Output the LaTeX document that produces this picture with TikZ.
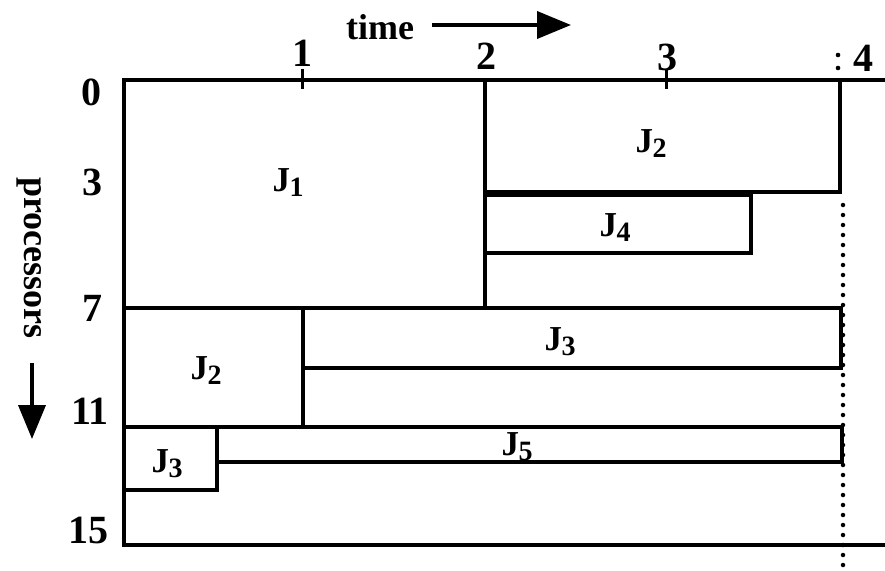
\documentclass[tikz,border=0pt]{standalone}
\usepackage{fontspec}
\setmainfont{Liberation Serif}
\usetikzlibrary{arrows.meta}
\newcommand{\jb}[1]{J\kern-0.5pt\raisebox{-5pt}{\fontsize{28}{28}\selectfont #1}}
\begin{document}
\begin{tikzpicture}[x=1pt,y=-1pt,
  ln/.style={line width=3.8pt,line cap=rect},
  num/.style={font=\fontsize{40}{40}\selectfont\bfseries,inner sep=0pt},
  job/.style={font=\fontsize{35}{35}\selectfont\bfseries,inner sep=0pt},
  lab/.style={font=\fontsize{36}{36}\selectfont\bfseries,inner sep=0pt},
  dots/.style={line width=4.5pt,line cap=round,dash pattern=on 0pt off 10pt},
  bigarrow/.style={line width=3.8pt,-{Triangle[length=34pt,width=27pt]}}]
\useasboundingbox (0,0) rectangle (885,570);
% axes
\draw[ln] (885,80) -- (124,80) -- (124,545) -- (885,545);
% ticks
\draw[line width=3pt] (302,69) -- (302,89);
\draw[line width=3pt] (666,69) -- (666,89);
% J1 / J2 separation
\draw[ln] (485,80) -- (485,308);
% J2 top box
\draw[ln] (485,192) -- (840,192) -- (840,80);
% J4
\draw[ln] (485,195) -- (751,195) -- (751,253) -- (485,253);
% line at 7
\draw[ln] (124,308) -- (841,308);
% J2 lower
\draw[ln] (303,308) -- (303,427);
% J3
\draw[ln] (841,308) -- (841,368) -- (303,368);
% line at 11
\draw[ln] (124,427) -- (842,427);
% J5
\draw[ln] (842,427) -- (842,462) -- (217,462);
% J3 small
\draw[ln] (217,427) -- (217,490) -- (124,490);
% dotted line
\draw[dots] (843,205) -- (843,570);
\fill (838,55) circle (2.3pt);
\fill (838,68) circle (2.3pt);
% top labels
\node[num] (t1) at (302,53) {1};
\node[num] (t2) at (486,56) {2};
\node[num] (t3) at (667,57) {3};
\node[num] (t4) at (863,58) {4};
% left labels
\node[num] (p0) at (91,92) {0};
\node[num] (p3) at (92,182) {3};
\node[num] (p7) at (92,308) {7};
\node[num] (p11) at (90,411) {11};
\node[num] (p15) at (88,530) {15};
% jobs
\node[job] (j1) at (288,183) {\jb{1}};
\node[job] (j2a) at (651,144) {\jb{2}};
\node[job] (j4) at (615,228) {\jb{4}};
\node[job] (j3a) at (560,342) {\jb{3}};
\node[job] (j2b) at (206,371) {\jb{2}};
\node[job] (j3b) at (167,464) {\jb{3}};
\node[job] (j5) at (517,447) {\jb{5}};
% time label and arrow
\node[lab] (time) at (380,27) {time};
\coordinate (ta) at (432,25);
\coordinate (tb) at (571,25);
\draw[bigarrow] (ta) -- (tb);
% processors label and arrow
\node[lab,rotate=-90] (proc) at (29,258) {processors};
\coordinate (pa) at (32,363);
\coordinate (pb) at (32,439);
\draw[bigarrow] (pa) -- (pb);
\end{tikzpicture}
\end{document}
